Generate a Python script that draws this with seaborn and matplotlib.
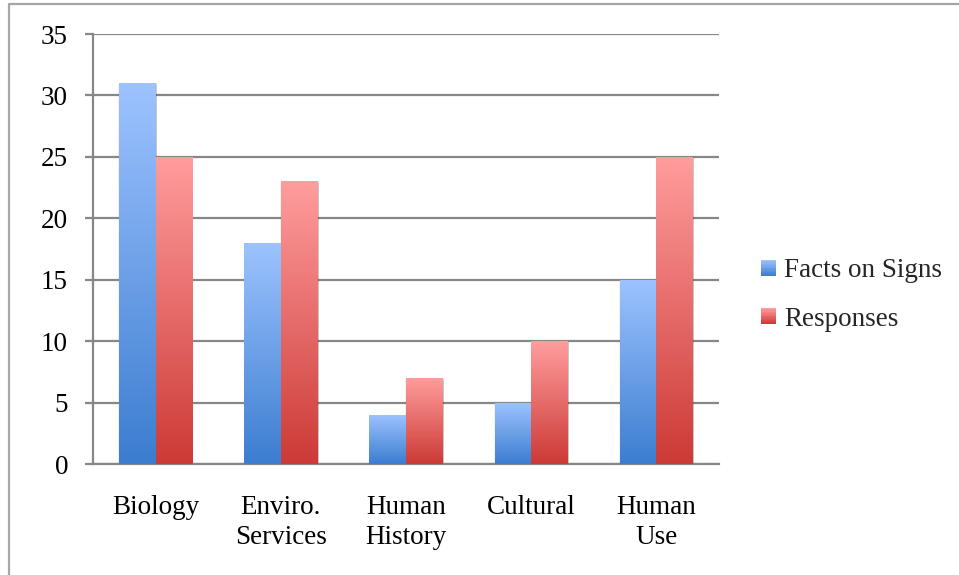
import numpy as np
import pandas as pd
import matplotlib
matplotlib.use("Agg")
import matplotlib.pyplot as plt
import matplotlib.colors as mcolors
from matplotlib.patches import Rectangle
from matplotlib.lines import Line2D
from matplotlib.legend_handler import HandlerBase
import seaborn as sns

categories = ["Biology", "Enviro.\nServices", "Human\nHistory", "Cultural", "Human\nUse"]
facts_on_signs = [31, 18, 4, 5, 15]
responses = [25, 23, 7, 10, 25]
series_names = ["Facts on Signs", "Responses"]
y_ticks = [0, 5, 10, 15, 20, 25, 30, 35]

# light (top) -> dark (bottom) fill for each series
gradients = {
    "Facts on Signs": ("#9dc3ff", "#3c7dd0"),
    "Responses": ("#ff9d9d", "#cc3a36"),
}

df = pd.DataFrame({
    "category": categories * 2,
    "value": facts_on_signs + responses,
    "series": [series_names[0]] * len(categories) + [series_names[1]] * len(categories),
})

sns.set_theme(style="white")
plt.rcParams["font.family"] = ["Liberation Serif", "DejaVu Serif"]

W, H = 959, 575
fig = plt.figure(figsize=(W / 100, H / 100), dpi=100)
ax = fig.add_axes([93 / W, 1 - 464 / H, (719 - 93) / W, (464 - 34) / H])

grid_col = "#878787"
sns.barplot(data=df, x="category", y="value", hue="series", order=categories,
            hue_order=series_names, width=0.585, gap=0, ax=ax, legend=False,
            palette=[gradients[s][1] for s in series_names], saturation=1,
            linewidth=0, zorder=3)

ax.set_ylim(0, 35)
ax.set_xlim(-0.5, len(categories) - 0.5)


def ramp(top, bottom, n=256):
    c0 = np.array(mcolors.to_rgb(top))
    c1 = np.array(mcolors.to_rgb(bottom))
    t = np.linspace(0, 1, n)[:, None]
    return (c0 * (1 - t) + c1 * t)[:, None, :]


# per-bar gradient fill with a soft drop shadow
n_cat = len(categories)
for i, patch in enumerate(list(ax.patches)):
    series = series_names[i // n_cat]
    x0, w = patch.get_x(), patch.get_width()
    h = patch.get_height()
    if h <= 0:
        continue
    for k, a in enumerate([0.05, 0.05, 0.06, 0.07]):
        dx = 0.004 + 0.003 * k
        dy = 0.06 + 0.04 * k
        sh = Rectangle((x0 + dx - 0.003 * (3 - k), -dy), w + 0.006 * (3 - k) - 0.003,
                       h + dy - 0.15 + 0.05 * k,
                       facecolor="black", alpha=a, linewidth=0, zorder=2.5)
        ax.add_patch(sh)
    img = ax.imshow(ramp(*gradients[series]), extent=(x0, x0 + w, 0, h),
                    aspect="auto", origin="upper", zorder=3.5, interpolation="bilinear")
    img.set_clip_path(patch)

ax.set_xlim(-0.5, n_cat - 0.5)
ax.set_ylim(0, 35)

ax.set_yticks(y_ticks)
ax.set_yticklabels([str(v) for v in y_ticks])
ax.yaxis.grid(True, color=grid_col, linewidth=1.6, zorder=1)
ax.set_axisbelow(True)
ax.set_xlabel("")
ax.set_ylabel("")

ax.set_xticks(range(n_cat))
ax.set_xticklabels(categories)
ax.set_xticks(np.arange(-0.5, n_cat, 1.0), minor=True)
ax.tick_params(axis="x", which="major", length=0, pad=22, labelsize=19.5, colors="black")
ax.tick_params(axis="x", which="minor", length=6, width=1.6, color=grid_col, direction="out")
ax.tick_params(axis="y", length=6, width=1.6, color=grid_col, direction="out",
               pad=12, labelsize=19.5, labelcolor="black", left=True)
for lbl in ax.get_xticklabels():
    lbl.set_verticalalignment("top")
    lbl.set_linespacing(1.3)

for side in ["top", "right"]:
    ax.spines[side].set_visible(False)
for side in ["left", "bottom"]:
    ax.spines[side].set_color(grid_col)
    ax.spines[side].set_linewidth(1.6)


class GradientHandler(HandlerBase):
    def __init__(self, top, bottom, **kw):
        super().__init__(**kw)
        self.top, self.bottom = top, bottom

    def create_artists(self, legend, orig_handle, xdescent, ydescent, width, height,
                       fontsize, trans):
        n = 12
        c0 = np.array(mcolors.to_rgb(self.top))
        c1 = np.array(mcolors.to_rgb(self.bottom))
        arts = []
        for j in range(n):
            t = j / (n - 1)
            col = c0 * (1 - t) + c1 * t
            r = Rectangle((-xdescent, -ydescent + height * (1 - (j + 1) / n)),
                          width, height / n, facecolor=col, linewidth=0,
                          transform=trans)
            arts.append(r)
        return arts


handles = [Rectangle((0, 0), 1, 1) for _ in series_names]
handler_map = {h: GradientHandler(*gradients[s]) for h, s in zip(handles, series_names)}
leg = fig.legend(handles, series_names, handler_map=handler_map,
                 loc="center left", bbox_to_anchor=(761 / W, 1 - 295 / H),
                 frameon=False, fontsize=19.5, handlelength=0.55, handleheight=0.55,
                 handletextpad=0.3, labelspacing=0.85, borderaxespad=0, borderpad=0)

# outer chart frame
fig.add_artist(Line2D([9 / W, 9 / W, 1.0], [0.0, 1 - 4 / H, 1 - 4 / H],
                      transform=fig.transFigure, color="#a6a6a6", linewidth=1.6))

fig.savefig("out.png", dpi=100)
